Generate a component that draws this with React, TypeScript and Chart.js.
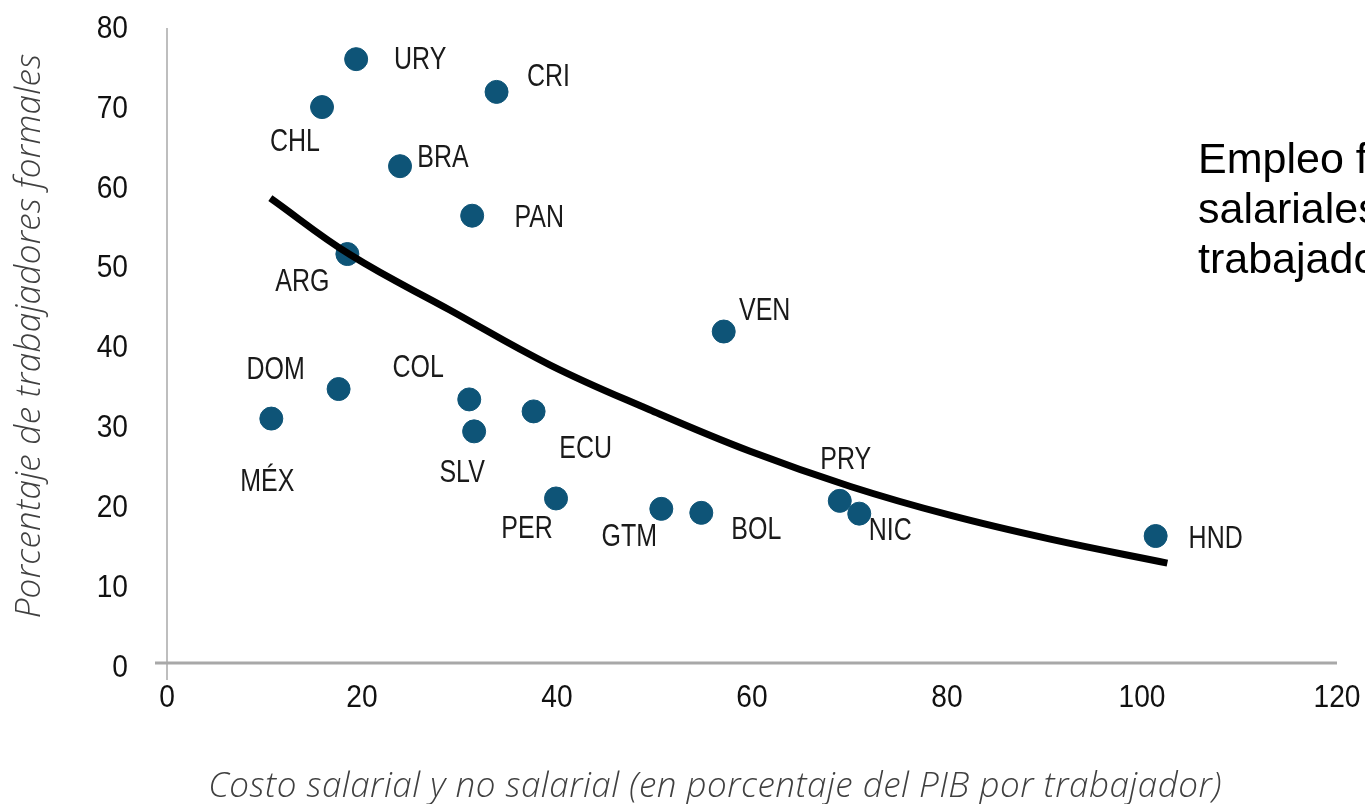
import React, { useEffect, useRef } from "react";
import { Chart, registerables } from "chart.js";

Chart.register(...registerables);

// ---- Data ----
const countries = ["URY", "CHL", "CRI", "BRA", "PAN", "ARG", "VEN", "DOM", "MÉX", "COL", "SLV", "ECU", "PER", "GTM", "BOL", "PRY", "NIC", "HND"];
const costValues = [19.4, 15.9, 33.8, 23.9, 31.3, 18.5, 57.1, 17.6, 10.7, 31.0, 31.5, 37.6, 39.9, 50.7, 54.8, 69.0, 71.0, 101.4];
const formalValues = [76.1, 70.1, 72.0, 62.7, 56.5, 51.7, 42.0, 34.8, 31.1, 33.5, 29.5, 32.0, 21.1, 19.8, 19.3, 20.8, 19.2, 16.4];

const trendX = [10.6, 18.8, 29.0, 39.3, 49.5, 59.8, 70.1, 80.3, 90.6, 102.6];
const trendY = [58.7, 51.6, 44.7, 37.8, 32.2, 27.0, 22.6, 19.0, 16.0, 13.0];

const xTickValues = [0, 20, 40, 60, 80, 100, 120];
const yTickValues = [0, 10, 20, 30, 40, 50, 60, 70, 80];

const xTitle = "Costo salarial y no salarial (en porcentaje del PIB por trabajador)";
const yTitle = "Porcentaje de trabajadores formales";
const sideText = ["Empleo formal y costos", "salariales y no salariales por", "trabajador"];

// label placement relative to each point (pixels), same order as countries
const labelOffsets: [number, number][] = [
  [64, 1], [-27, 35], [52, -15], [43, -8], [67, 2], [-45, 28], [41, -20], [-63, -19], [-4, 64],
  [-51, -31], [-12, 42], [52, 38], [-29, 31], [-32, 28], [55, 17], [6, -41], [31, 18], [60, 3],
];

const DOT = "#0e5477";
const AXIS_GRAY = "#a8a8a8";
const SANS = "'Liberation Sans', Arial, sans-serif";

const drawNarrow = (
  ctx: CanvasRenderingContext2D, text: string, x: number, y: number, size: number, sx: number, align: CanvasTextAlign
) => {
  ctx.save();
  ctx.translate(x, y);
  ctx.scale(sx, 1);
  ctx.font = `${size}px ${SANS}`;
  ctx.textAlign = align;
  ctx.textBaseline = "middle";
  ctx.fillText(text, 0, 0);
  ctx.restore();
};

const decorPlugin = {
  id: "decor",
  beforeDatasetsDraw(chart: any) {
    const { ctx, scales } = chart;
    const xs = scales.x;
    const ys = scales.y;
    const x0 = xs.getPixelForValue(0);
    const y0 = ys.getPixelForValue(0);
    ctx.save();
    ctx.strokeStyle = AXIS_GRAY;
    ctx.lineWidth = 3;
    ctx.beginPath();
    ctx.moveTo(x0 - 12, y0 - 4);
    ctx.lineTo(xs.getPixelForValue(120), y0 - 4);
    ctx.stroke();
    ctx.lineWidth = 1.5;
    ctx.beginPath();
    ctx.moveTo(x0, ys.getPixelForValue(80));
    ctx.lineTo(x0, y0 + 13);
    ctx.stroke();
    // tick labels from the library's scales
    ctx.fillStyle = "#111";
    xs.ticks.forEach((t: any) => {
      drawNarrow(ctx, String(t.value), xs.getPixelForValue(t.value), y0 + 31, 32, 0.88, "center");
    });
    ys.ticks.forEach((t: any) => {
      drawNarrow(ctx, String(t.value), x0 - 39, ys.getPixelForValue(t.value) + 1, 32, 0.88, "right");
    });
    ctx.restore();
  },
  afterDatasetsDraw(chart: any) {
    const { ctx } = chart;
    const meta = chart.getDatasetMeta(1);
    ctx.save();
    ctx.fillStyle = "#1a1a1a";
    meta.data.forEach((pt: any, i: number) => {
      const [dx, dy] = labelOffsets[i];
      drawNarrow(ctx, countries[i], pt.x + dx, pt.y + dy, 32, 0.78, "center");
    });
    ctx.restore();
  },
  afterDraw(chart: any) {
    const { ctx } = chart;
    ctx.save();
    ctx.fillStyle = "#404040";
    ctx.font = "italic 300 35px 'Open Sans', Lato, sans-serif";
    ctx.textAlign = "center";
    ctx.textBaseline = "alphabetic";
    (ctx as any).letterSpacing = "0.5px";
    ctx.fillText(xTitle, 715, 797);
    ctx.save();
    ctx.translate(40, 336);
    ctx.rotate(-Math.PI / 2);
    (ctx as any).letterSpacing = "0.3px";
    ctx.fillText(yTitle, 0, 0);
    ctx.restore();
    (ctx as any).letterSpacing = "0px";
    ctx.fillStyle = "#000";
    ctx.font = `43px ${SANS}`;
    ctx.textAlign = "left";
    sideText.forEach((t, i) => ctx.fillText(t, 1198, 173 + i * 50));
    ctx.restore();
  },
};

export default function App() {
  const ref = useRef<HTMLCanvasElement>(null);
  useEffect(() => {
    if (!ref.current) return;
    const chart = new Chart(ref.current, {
      type: "scatter",
      data: {
        datasets: [
          {
            type: "line",
            label: "Tendencia",
            data: trendX.map((x, i) => ({ x, y: trendY[i] })),
            borderColor: "#000",
            borderWidth: 7,
            pointRadius: 0,
            fill: false,
            tension: 0.4,
            order: 0,
          },
          {
            label: "Países",
            data: costValues.map((x, i) => ({ x, y: formalValues[i] })),
            backgroundColor: DOT,
            borderColor: DOT,
            pointRadius: 11.5,
            pointHoverRadius: 11.5,
            order: 1,
          },
        ],
      } as any,
      options: {
        responsive: false,
        animation: false,
        layout: { padding: { top: 28, right: 28, left: 0, bottom: 0 } },
        plugins: { legend: { display: false }, tooltip: { enabled: false } },
        scales: {
          x: {
            type: "linear",
            min: 0,
            max: 120,
            afterBuildTicks: (s: any) => { s.ticks = xTickValues.map((v) => ({ value: v })); },
            afterFit: (s: any) => {
              s.height = 804 - 667;
              s.paddingLeft = 0; s.paddingRight = 0; s.paddingTop = 0; s.paddingBottom = 0;
            },
            grid: { display: false, drawTicks: false },
            border: { display: false },
            ticks: { display: false },
          },
          y: {
            type: "linear",
            min: 0,
            max: 80,
            afterBuildTicks: (s: any) => { s.ticks = yTickValues.map((v) => ({ value: v })); },
            afterFit: (s: any) => {
              s.width = 167;
              s.paddingLeft = 0; s.paddingRight = 0; s.paddingTop = 0; s.paddingBottom = 0;
            },
            grid: { display: false, drawTicks: false },
            border: { display: false },
            ticks: { display: false },
          },
        },
      } as any,
      plugins: [decorPlugin],
    });
    return () => chart.destroy();
  }, []);
  return (
    <div style={{ position: "absolute", left: 0, top: 0, width: 1365, height: 804, background: "#fff" }}>
      <canvas ref={ref} width={1365} height={804} />
    </div>
  );
}
